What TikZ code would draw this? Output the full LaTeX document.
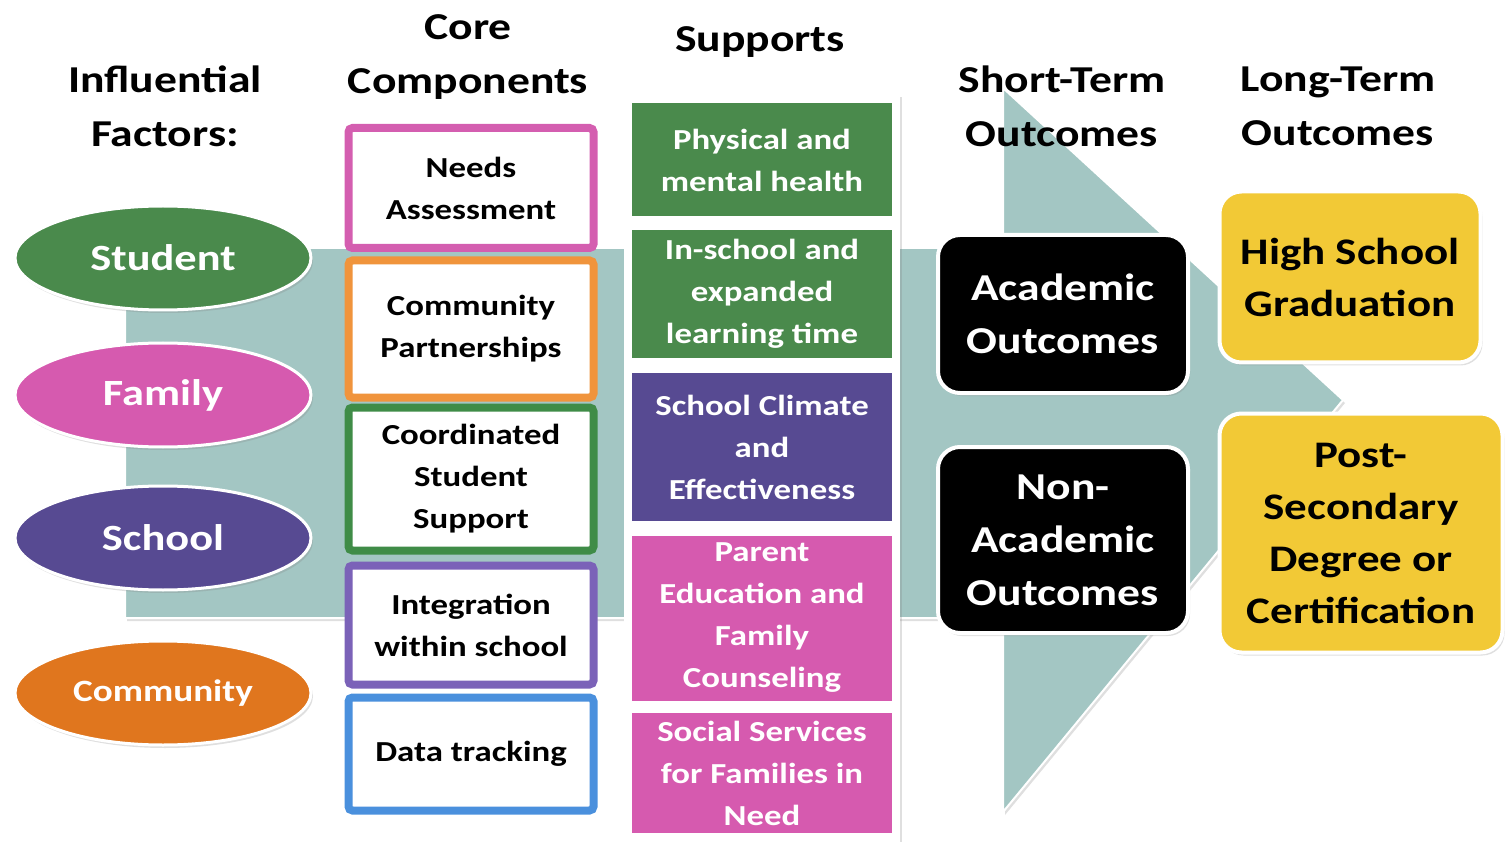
\documentclass[tikz,border=0pt]{standalone}
\usepackage{fontspec}
\setmainfont{Carlito}[FakeStretch=1.2]
\usepackage{tikz}
\usetikzlibrary{calc, shapes, fit, positioning, shadows}

\definecolor{bandteal}{HTML}{A3C6C3}
\definecolor{leafgreen}{HTML}{4A8A4C}
\definecolor{rosepink}{HTML}{D65AAF}
\definecolor{deeppurple}{HTML}{574A92}
\definecolor{rustorange}{HTML}{E0761E}
\definecolor{edgepink}{HTML}{D45EB0}
\definecolor{edgeorange}{HTML}{F0943C}
\definecolor{edgegreen}{HTML}{3F8C47}
\definecolor{edgepurple}{HTML}{7B62B8}
\definecolor{edgeblue}{HTML}{4A90DD}
\definecolor{goalyellow}{HTML}{F2C936}

\begin{document}
\begin{tikzpicture}[x=1pt, y=-1pt,
	head/.style={align=center, font=\fontsize{38}{54}\selectfont\bfseries},
	softshadow/.style={drop shadow={opacity=0.25, shadow xshift=2pt, shadow yshift=-3pt}},
	factor/.style={ellipse, draw=white, line width=3pt, minimum width=296pt, minimum height=104pt,
		inner sep=0pt, text=white, font=\fontsize{37}{40}\selectfont\bfseries, softshadow},
	core/.style={rectangle, rounded corners=4pt, fill=white, line width=8pt, minimum width=245pt,
		inner sep=0pt, align=center, font=\fontsize{29}{42}\selectfont\bfseries},
	support/.style={rectangle, minimum width=260pt, inner sep=0pt, text=white, align=center,
		font=\fontsize{29}{42}\selectfont\bfseries},
	shortout/.style={rectangle, rounded corners=22pt, fill=black, draw=white, line width=4pt,
		minimum width=250pt, inner sep=0pt, text=white, align=center,
		font=\fontsize{38}{53}\selectfont\bfseries, softshadow},
	longout/.style={rectangle, rounded corners=22pt, fill=goalyellow, draw=white, line width=4pt,
		inner sep=0pt, text=black, align=center,
		font=\fontsize{37.5}{52}\selectfont\bfseries, softshadow}
	]
	\useasboundingbox (0,0) rectangle (1508,842);

	% NOTE: y axis points down, so coordinates are pixels of the reference.
	% big arrow behind everything
	\filldraw[fill=bandteal, draw=white, line width=2pt, softshadow]
		(125,248) -- (1003,248) -- (1003,88) -- (1343,400) --
		(1003,812) -- (1003,618) -- (125,618) -- cycle;

	% column headings
	\node[head] (hfactors) at (165,106) {Influential\\Factors:};
	\node[head] (hcore) at (468,57) {Core\\Components};
	\node[head] (hsupports) at (760,42) {Supports};
	\node[head] (hshort) at (1062,106) {Short-Term\\Outcomes};
	\node[head] (hlong) at (1338,106) {Long-Term\\Outcomes};

	% influential factors
	\node[factor, fill=leafgreen] (student) at (163,258) {Student};
	\node[factor, fill=rosepink] (family) at (163,395) {Family};
	\node[factor, fill=deeppurple] (school) at (163,538) {School};
	\node[factor, fill=rustorange, font=\fontsize{31}{34}\selectfont\bfseries] (community) at (163,693) {Community};

	% core components
	\node[core, draw=edgepink, minimum height=120pt] (needs) at (471,188) {Needs\\Assessment};
	\node[core, draw=edgeorange, minimum height=137pt] (partners) at (471,329) {Community\\Partnerships};
	\node[core, draw=edgegreen, minimum height=143pt] (coord) at (471,479) {Coordinated\\Student\\Support};
	\node[core, draw=edgepurple, minimum height=119pt] (integr) at (471,625) {Integration\\within school};
	\node[core, draw=edgeblue, minimum height=113pt] (data) at (471,754) {Data tracking};

	% supports on a white strip
	\fill[white, softshadow] (624,94) rectangle (900,842);
	\node[support, fill=leafgreen, minimum height=113pt] (health) at (762,160) {Physical and\\mental health};
	\node[support, fill=leafgreen, minimum height=128pt] (learning) at (762,294) {In-school and\\expanded\\learning time};
	\node[support, fill=deeppurple, minimum height=147pt] (climate) at (762,447) {School Climate\\and\\Effectiveness};
	\node[support, fill=rosepink, minimum height=165pt] (parent) at (762,618) {Parent\\Education and\\Family\\Counseling};
	\node[support, fill=rosepink, minimum height=120pt] (social) at (762,773) {Social Services\\for Families in\\Need};

	% outcomes
	\node[shortout, minimum height=158pt] (academic) at (1063,314) {Academic\\Outcomes};
	\node[shortout, minimum height=186pt] (nonacad) at (1063,540) {Non-\\Academic\\Outcomes};
	\node[longout, minimum width=261pt, minimum height=171pt] (hsgrad) at (1350,277) {High School\\Graduation};
	\node[longout, minimum width=283pt, minimum height=239pt] (postsec) at (1361,533) {Post-\\Secondary\\Degree or\\Certification};
\end{tikzpicture}
\end{document}
